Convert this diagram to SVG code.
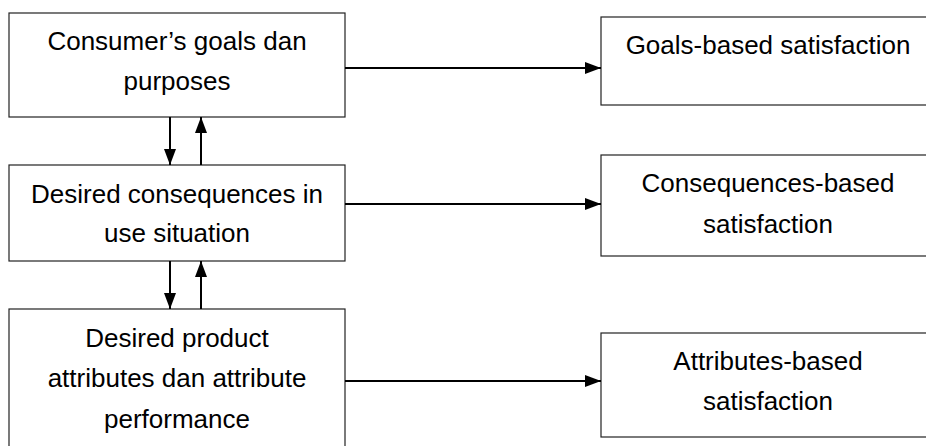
<svg xmlns="http://www.w3.org/2000/svg" width="926" height="446" viewBox="0 0 926 446">
<style>
.box{fill:#fff;stroke:#222;stroke-width:1.2}
.t{font-family:"Liberation Sans",Arial,sans-serif;font-size:26px;fill:#000;text-anchor:middle}
.c{stroke:#000;stroke-width:2;fill:none}
</style>
<defs>
<marker id="ah" markerWidth="16" markerHeight="12" refX="16" refY="6" orient="auto" markerUnits="userSpaceOnUse">
<path d="M0,0 L16,6 L0,12 Z" fill="#000"/>
</marker>
</defs>
<rect width="926" height="446" fill="#fff"/>
<g id="n1"><rect class="box" x="9" y="13" width="336" height="104"/>
<text class="t" x="177" y="50">Consumer’s goals dan</text><text class="t" x="177" y="90">purposes</text></g>
<g id="n2"><rect class="box" x="9" y="165" width="336" height="96"/>
<text class="t" x="177" y="203">Desired consequences in</text><text class="t" x="177" y="242">use situation</text></g>
<g id="n3"><rect class="box" x="9" y="309" width="336" height="145"/>
<text class="t" x="177" y="347">Desired product</text><text class="t" x="177" y="387">attributes dan attribute</text><text class="t" x="177" y="428">performance</text></g>
<g id="n4"><rect class="box" x="601" y="17" width="340" height="88"/>
<text class="t" x="768" y="54">Goals-based satisfaction</text></g>
<g id="n5"><rect class="box" x="601" y="155" width="340" height="101"/>
<text class="t" x="768" y="192">Consequences-based</text><text class="t" x="768" y="233">satisfaction</text></g>
<g id="n6"><rect class="box" x="601" y="333" width="340" height="104"/>
<text class="t" x="768" y="370">Attributes-based</text><text class="t" x="768" y="410">satisfaction</text></g>
<g id="connectors">
<line class="c" x1="345" y1="68" x2="601" y2="68" marker-end="url(#ah)"/>
<line class="c" x1="345" y1="204" x2="601" y2="204" marker-end="url(#ah)"/>
<line class="c" x1="345" y1="381" x2="601" y2="381" marker-end="url(#ah)"/>
<line class="c" x1="170" y1="117" x2="170" y2="165" marker-end="url(#ah)"/>
<line class="c" x1="201" y1="165" x2="201" y2="117" marker-end="url(#ah)"/>
<line class="c" x1="170" y1="261" x2="170" y2="309" marker-end="url(#ah)"/>
<line class="c" x1="201" y1="309" x2="201" y2="261" marker-end="url(#ah)"/>
</g>
</svg>
